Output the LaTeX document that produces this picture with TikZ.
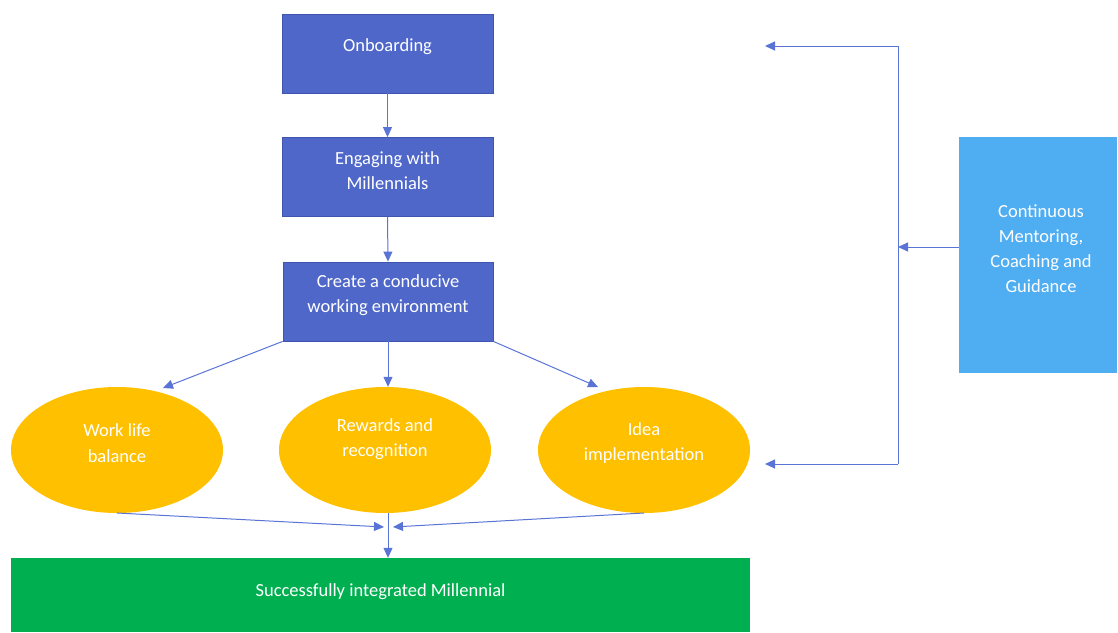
\documentclass[tikz,border=0pt]{standalone}
\usepackage{fontspec}
\setmainfont{Carlito}
\usetikzlibrary{shapes.geometric,arrows.meta}
\definecolor{boxblue}{HTML}{4F67C9}
\definecolor{boxedge}{HTML}{3F55AE}
\definecolor{lineblue}{HTML}{5A74D6}
\definecolor{ellyellow}{HTML}{FFC000}
\definecolor{mgreen}{HTML}{00B050}
\definecolor{lblue}{HTML}{4FADF2}
\tikzset{
  procbox/.style={rectangle,draw=boxedge,line width=0.8pt,fill=boxblue,minimum width=211pt,minimum height=79pt,inner sep=0pt},
  lbl/.style={text=white,align=center,inner sep=0pt,font=\fontsize{18.5}{25}\selectfont},
  oval/.style={ellipse,fill=ellyellow,draw=none,minimum width=212pt,minimum height=126pt,inner sep=0pt},
  conn/.style={draw=lineblue,line width=1pt,-{Triangle[length=10pt,width=9pt]}},
  plain/.style={draw=lineblue,line width=1pt}
}
\begin{document}
\begin{tikzpicture}[x=1pt,y=-1pt]
\useasboundingbox (0,0) rectangle (1118,632);
\node[procbox] (onb) at (387.5,53.5) {};
\node[procbox] (eng) at (387.5,177) {};
\node[procbox,minimum width=210pt] (cre) at (388,301.5) {};
\node[lbl] (onbt) at (387.5,47) {Onboarding};
\node[lbl] (engt) at (387.5,170.5) {Engaging with\\Millennials};
\node[lbl] (cret) at (388,295) {Create a conducive\\working environment};
\node[oval] (wlb) at (117,450) {};
\node[oval] (rew) at (385,450) {};
\node[oval] (idea) at (644,450) {};
\node[lbl,font=\fontsize{18.5}{26}\selectfont] (wlbt) at (117,443) {Work life\\balance};
\node[lbl,font=\fontsize{18.5}{25}\selectfont] (rewt) at (385,439.5) {Rewards and\\recognition};
\node[lbl,font=\fontsize{18.5}{25}\selectfont] (ideat) at (644,443.5) {Idea\\implementation};
\node[rectangle,fill=mgreen,minimum width=739pt,minimum height=74pt,inner sep=0pt] (succ) at (380.5,595) {};
\node[lbl] (succt) at (380.5,592) {Successfully integrated Millennial};
\node[rectangle,fill=lblue,minimum width=158pt,minimum height=236pt,inner sep=0pt] (mentor) at (1038,255) {};
\node[lbl] (mentort) at (1041,249) {Continuous\\Mentoring,\\Coaching and\\Guidance};
% main flow
\draw[conn] (onb.south) -- (eng.north);
\draw[conn] (eng.south) -- (cre.north);
\draw[conn] (cre.south) -- (cre.south |- rew.north);
\draw[conn] (cre.south west) -- (163,388);
\draw[conn] (cre.south east) -- (598,387);
% convergence
\coordinate (mergeL) at (384,527);
\coordinate (mergeR) at (393,527);
\coordinate (midtop) at (388,513);
\draw[conn] (117,513) -- (mergeL);
\draw[conn] (644,513) -- (mergeR);
\draw[conn] (midtop) -- (midtop |- succ.north);
% feedback bracket
\coordinate (bt) at (898,46);
\coordinate (bb) at (898,464);
\coordinate (bm) at (898,247);
\coordinate (tipT) at (765,46);
\coordinate (tipB) at (765,464);
\draw[plain] (bt) -- (bb);
\draw[conn] (bt) -- (tipT);
\draw[conn] (bb) -- (tipB);
\draw[conn] (mentor.west |- bm) -- (bm);
\end{tikzpicture}
\end{document}
